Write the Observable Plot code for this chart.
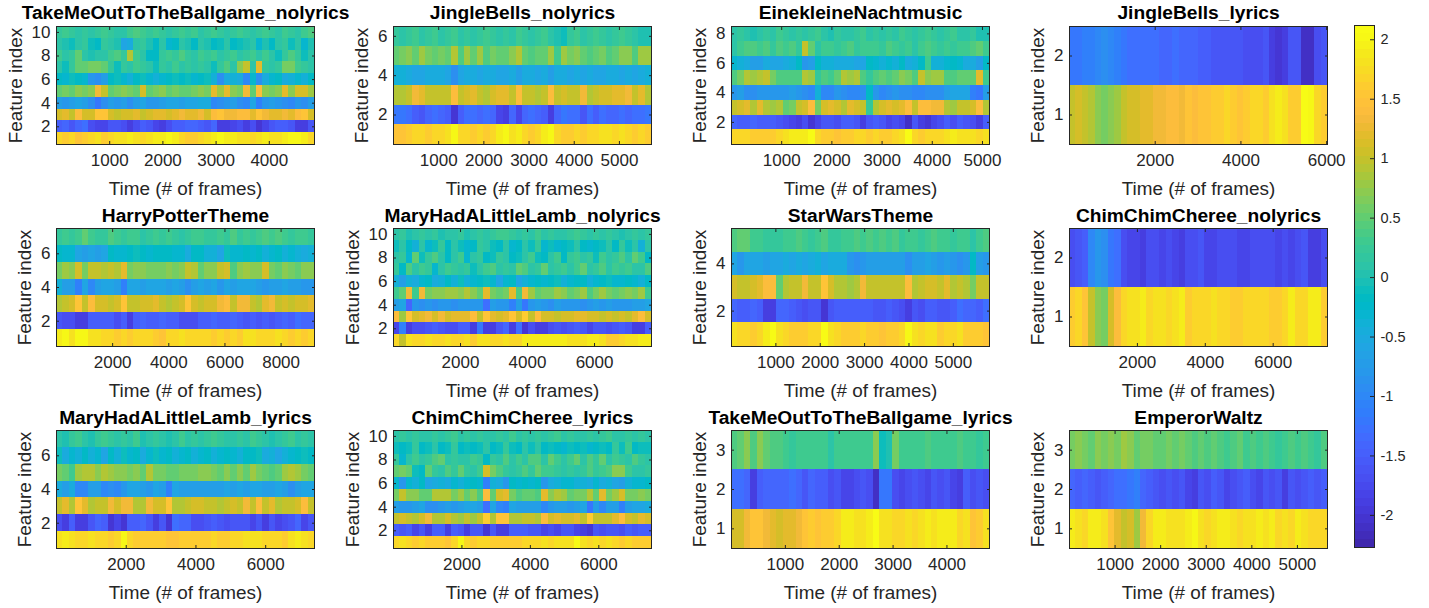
<!DOCTYPE html>
<html><head><meta charset="utf-8">
<script src="https://cdn.jsdelivr.net/npm/d3@7"></script>
<script src="https://cdn.jsdelivr.net/npm/@observablehq/plot@0.6"></script>
<style>html,body{margin:0;padding:0;background:#fff}#c{position:relative;width:1429px;height:608px;overflow:hidden}#c svg{position:absolute;overflow:visible;background:transparent}</style>
</head><body><div id="c"></div>
<script>
// Values are estimated by eye from the picture; each inner array is one feature (1 upward), read left to right.
const takeMeNoLyrics = [
[1.7,1.6,1.7,1.5,1.6,1.7,1.8,1.6,1.7,1.8,1.8,1.9,1.8,1.7,1.8,1.9,1.9,2,1.9,1.7,1.6,1.6,1.7,1.8,1.9,2,1.9,1.9,1.8,1.8,1.7,1.8,1.9,1.8,1.8,1.9,2,2,1.9,1.7],
[-1.5,-1.4,-1.6,-1.4,-1.3,-1.7,-1.8,-1.8,-1.6,-1.6,-1.7,-1.9,-1.7,-1.5,-1.6,-1.8,-1.9,-1.7,-1.5,-1.5,-1.4,-1.4,-1.5,-1.6,-1.4,-1.9,-1.9,-1.8,-1.7,-1.9,-1.7,-2,-1.8,-1.6,-1.5,-1.5,-1.6,-1.9,-1.9,-1.6],
[1.1,1.2,1,1.4,1.1,1.1,1.5,1.5,1.1,1,1.1,1.1,1.2,1,1.1,1.2,1.2,1.1,1.2,1.3,1.2,1.2,1.3,1.1,1.4,1.5,1.3,1.3,1.4,1.4,1.2,1.5,1.3,1.2,1.2,1.3,1.2,1.4,1.5,1.1],
[-.7,-.8,-.7,-.6,-.7,-.9,-1.2,-.9,-.7,-.8,-.7,-.9,-.7,-.6,-.8,-.8,-.7,-.6,-.6,-.7,-.6,-.6,-.5,-.5,-1,-.9,-.8,-.7,-.9,-1,-.6,-1.1,-.8,-.7,-.8,-.9,-1,-.8,-.9,-.7],
[.5,.6,.5,.7,.6,.7,1.3,1,.5,.6,.7,.6,.5,1.1,.5,.6,.7,.5,.6,.5,.5,.6,.7,.6,1.2,.8,1.2,.7,.6,1.3,.5,1.4,.7,.6,.7,1.2,.7,1.1,1.1,.8],
[-.2,-.3,-.1,-.2,-.3,-.8,-.9,-.7,-.2,-.1,-.3,-.4,-.2,-.1,-.3,-.4,-.3,-.2,-.1,-.2,-.1,-.3,-.2,-.1,-.4,-.9,-.5,-.4,-.5,-1,-.3,-.9,-.5,-.3,-.2,-.5,-.4,-.3,-.4,-.2],
[.1,-.1,.2,.5,.5,.6,.6,.5,.2,-.1,.2,.1,.3,.2,.1,-.1,.2,.1,.3,.1,.2,.1,.2,.1,-.1,.2,.4,.1,.7,1,.1,1.2,.2,.1,.2,.6,.6,.3,.2,.1],
[.3,.1,.2,.5,.1,0,.1,.1,.3,.4,.2,.9,.3,.1,-.2,-.2,.2,.3,.2,.4,.2,.1,.3,.2,.3,.1,.2,.3,.1,.2,.3,.1,.3,.1,-.1,.2,.4,.2,-.1,.1],
[.1,0,-.1,.1,.2,-.1,-.2,.2,.1,0,-.6,-.5,.1,.2,0,-.2,.1,-.3,-.2,.1,0,-.2,.1,0,-.2,-.1,.1,-.2,-.1,0,.1,-.3,0,-.2,.1,.2,-.1,.1,-.3,0],
[.2,.3,.2,.1,.2,.1,.2,.3,.2,.1,.1,.3,.4,.3,.2,.3,.2,.1,.2,.3,.2,.3,.1,.2,.3,.2,.1,.2,.3,.2,.1,.2,.3,.2,.1,.3,.2,.1,.3,.4]];
const jingleNoLyrics = [
[1.5,1.5,1.6,1.7,1.7,1.6,1.7,1.7,1.8,2,1.7,1.7,1.6,1.7,1.6,1.7,1.9,2,1.8,1.9,1.7,1.6,1.7,1.9,2,1.7,1.6,1.6,1.7,1.6,1.7,1.7,1.8,1.8,1.7,1.8,1.7,1.6,1.7,1.6],
[-1.2,-1.2,-1.3,-1.5,-1.6,-1.4,-1.3,-1.4,-1.5,-2,-1.5,-1.3,-1.3,-1.4,-1.3,-1.4,-1.8,-1.9,-1.4,-1.8,-1.4,-1.3,-1.4,-1.5,-1.9,-1.4,-1.2,-1.3,-1.3,-1.6,-1.3,-1.5,-1.3,-1.4,-1.4,-1.3,-1.4,-1.3,-1.3,-1.2],
[.9,.9,1,1.3,1.2,1,1,1,1,1.4,1,1.1,1.2,1,.9,1.1,1.2,1.2,1,1.4,1,1,.9,1,1.4,1,1.1,1,1,1.3,.9,1,1.1,1.1,1.2,1.2,1.3,1,1.2,.9],
[-.4,-.4,-.5,-.6,-.6,-.5,-.5,-.5,-.6,-.9,-.6,-.5,-.5,-.6,-.5,-.5,-.6,-.6,-.5,-.7,-.5,-.5,-.6,-.5,-.7,-.5,-.5,-.6,-.5,-.6,-.5,-.6,-.6,-.5,-.5,-.6,-.5,-.6,-.5,-.4],
[.5,.6,.7,.5,.8,.6,.5,.6,.5,.9,.4,.8,.5,.8,.4,.6,.5,.5,.7,.9,.5,.4,.5,.5,.8,.3,.8,.6,.7,.5,.4,.5,.6,.4,.5,.7,.7,.4,.8,.8],
[.2,.1,.2,.3,.1,.2,.3,.1,.2,.3,.1,.2,.1,.2,.3,.2,.1,.2,.1,.3,.2,.1,.2,.3,.1,0,-.1,.2,.3,.1,.2,.3,.2,.1,.2,.3,.2,.1,0,0]];
const kleineNacht = [
[1.7,1.7,1.7,1.6,1.6,1.6,1.6,1.7,1.8,1.9,1.9,1.9,2.05,1.7,1.6,1.6,1.5,1.6,1.6,1.7,1.7,1.6,1.7,1.6,1.6,1.7,1.8,2.1,1.7,1.6,1.7,1.7,1.7,1.8,1.9,1.8,1.8,1.8,1.7,1.8],
[-1.4,-1.5,-1.5,-1.4,-1.5,-1.5,-1.5,-1.6,-1.7,-1.8,-1.9,-1.7,-2,-1.8,-1.6,-1.6,-1.7,-1.5,-1.5,-1.6,-1.9,-1.6,-1.5,-1.6,-1.8,-1.7,-1.8,-2.1,-1.6,-1.9,-2,-1.8,-1.7,-1.5,-1.7,-1.5,-1.6,-1.7,-1.9,-1.5],
[1,1.1,1.2,.9,1.2,.9,.8,.9,.5,.6,1,1.1,1.4,.6,1.1,1.2,1.1,.9,1.2,1.1,1,.2,.9,1.1,1.2,1.1,1.2,1.4,1,1.4,1.4,1.3,1.3,.9,.8,1,1,1.1,1.4,.9],
[-.8,-.7,-.9,-.9,-.8,-.8,-.8,-.8,-.8,-.7,-.8,-.9,-1,-.4,-1,-1,-.8,-.9,-1,-1,-.9,-.2,-.8,-1,-.9,-.8,-.9,-.9,-1,-1,-.9,-.9,-.9,-.7,-.6,-.6,-.6,-1.1,-1.2,-.7],
[.4,.6,.9,.8,.9,1,.6,.4,.4,.4,.4,.9,.8,.2,.4,.3,.5,.9,.8,.9,.4,.2,.4,.5,.4,.5,.7,.6,.4,1,.7,.8,.8,.4,.4,.5,.5,.5,1.2,.3],
[-.3,-.4,-.5,-.7,-.7,-.5,-.6,-.6,-.5,-.4,-.2,-.8,-.7,-.2,-.4,-.4,-.5,-.5,-.5,-.6,-.6,-.2,-.3,-.4,-.3,-.4,-.2,-.5,-.4,-.2,.3,-.4,-.4,-.3,-.2,-.3,-.5,-.5,-.7,-.2],
[.1,.3,.4,.4,.3,.4,.2,.4,.3,.4,.2,1,.5,.1,.3,.3,.2,.3,.4,.2,.3,.3,.3,.2,.4,.3,.2,.3,.1,.3,.4,.3,.2,.3,.2,.3,.3,.4,.5,.3],
[.1,.2,.1,0,.1,.2,.1,.3,.2,.1,.2,.1,.2,.3,.1,0,.2,.1,.1,.2,.3,.1,.2,.1,.2,.1,.3,.2,.1,.2,.3,.2,.1,.2,.3,.1,.1,.2,0,0]];
const jingleLyrics = [
[1,1.1,1,.9,.7,.6,.7,.8,1,1.1,1.1,1.2,1.2,1.3,1.3,1.4,1.4,1.3,1.5,1.4,1.5,1.5,1.6,1.6,1.7,1.6,1.5,1.6,1.7,1.7,1.6,1.8,1.9,1.8,1.6,1.6,2.05,2,1.7,1.6],
[-1.2,-1.2,-1.1,-1.1,-1,-.9,-1,-1.1,-1.2,-1.3,-1.3,-1.3,-1.3,-1.3,-1.4,-1.4,-1.3,-1.4,-1.4,-1.4,-1.5,-1.5,-1.6,-1.6,-1.6,-1.6,-1.6,-1.7,-1.7,-1.7,-1.6,-1.9,-2,-1.9,-1.6,-1.6,-2.1,-2.1,-1.7,-1.6]];
const harryPotter = [
[1.9,2,1.8,2,2,1.8,1.8,1.7,1.7,1.6,1.7,1.6,1.7,1.7,1.7,1.6,1.5,1.7,1.7,1.8,1.7,1.7,1.7,1.7,1.6,1.7,1.6,1.7,1.6,1.8,1.8,1.7,1.7,1.7,1.8,1.7,1.6,1.7,1.6,1.7],
[-1.6,-1.7,-1.7,-1.9,-1.9,-1.5,-1.5,-1.5,-1.5,-1.7,-1.5,-1.9,-1.5,-1.4,-1.5,-1.5,-1.4,-1.5,-1.5,-1.7,-1.7,-1.7,-1.5,-1.5,-1.4,-1.5,-1.5,-1.4,-1.5,-1.6,-1.5,-1.6,-1.5,-1.6,-1.5,-1.4,-1.5,-1.3,-1.4,-1.4],
[.9,1,1.1,1.5,1,1.4,1.1,1.1,1,1.1,1.5,1,1,1.1,1.1,1.2,1,.9,1,1.1,1.5,1.1,1,1.1,1.1,1.3,1.4,1,1.3,1.3,1,.9,1.2,1.3,1,1.1,1,1.1,1.1,1.2],
[-.4,-.7,-.7,-1.1,-.6,-1,-.7,-.6,-.6,-.7,-1.1,-.6,-.6,-.7,-.6,-.6,-.6,-.7,-.6,-.7,-.9,-.7,-.6,-.7,-.6,-.8,-.6,-.7,-.6,-.6,-.6,-.7,-.8,-.7,-.7,-.6,-.7,-.7,-.8,-.8],
[.6,.8,.7,1.1,.6,1,1,.9,1,.9,1.2,.6,.7,.7,.6,.6,.6,.7,.6,.7,1,.9,.5,.7,.7,1,1.1,.4,.7,.8,.7,.7,1.1,.6,.5,.7,.6,.5,.7,.7],
[-.2,-.3,-.3,-.6,-.7,-.6,-.7,-.6,-.2,-.3,-.3,-.2,-.1,-.2,-.3,-.2,-.2,-.2,-.3,-.3,-.5,-.2,-.2,-.4,-.4,-.6,-.1,-.3,-.3,-.2,-.3,-.2,-.4,-.3,-.2,-.4,-.3,-.4,-.5,-.4],
[.2,.3,.2,.3,.5,.3,.2,.2,.4,.3,.2,.3,.3,.1,.2,.3,.2,.3,.2,.1,.2,.3,.3,.2,.2,.3,.2,.4,.2,.3,.2,.3,.4,.3,.4,.3,.2,.3,.3,.2]];
const maryNoLyrics = [
[1.7,1,1.8,1.7,1.7,1.8,1.7,1.7,1.8,1.7,1.7,1.8,1.6,1.8,1.8,1.7,1.7,1.8,1.7,1.7,1.9,1.9,1.9,1.9,1.9,1.9,1.9,1.8,1.8,1.8,1.9,1.9,1.8,1.6,1.6,1.7,1.8,1.8,1.9,1.9],
[-1.8,-1.1,-1.9,-1.7,-1.7,-1.6,-1.5,-1.6,-1.7,-1.7,-1.5,-1.5,-1.9,-1.2,-1.9,-1.9,-1.6,-1.4,-1.9,-1.3,-2,-1.7,-1.9,-1.9,-1.7,-1.6,-1.7,-1.6,-1.5,-1.6,-1.8,-1.6,-1.6,-1.7,-1.6,-1.5,-1.6,-1.9,-1.9,-1.5],
[1.4,.8,1.5,1.1,1.2,1.3,1.1,1.3,1.1,1.2,1.2,1.2,1.4,1,1.5,1.2,1.1,1.2,1.5,1.1,1.6,1,1.4,1.1,1.1,1,1.1,1.1,1.2,1.2,1.1,1.1,1,1.1,1,1.1,1,1.2,1.4,1.1],
[-.7,-.6,-1.4,-.8,-.9,-.8,-.9,-.8,-.8,-.9,-.8,-.8,-.8,-.8,-1.3,-.7,-.8,-.8,-1.1,-.7,-1.2,-.8,-.7,-.8,-.9,-.7,-.8,-.8,-.8,-.9,-.8,-.7,-.8,-.7,-.8,-.8,-.8,-.7,-.7,-.6],
[.3,.5,1.3,.3,1.3,.6,.7,.7,.8,.8,.7,.9,.7,.5,1.2,.6,.5,.6,1.2,.4,1.3,.8,.5,.6,.6,.8,.7,.5,.6,.8,.4,.6,.8,.6,.5,.6,.7,.6,.8,.3],
[-.4,-.7,-.4,-.5,-.3,-.2,-.5,-.4,-.2,-.4,-.1,-.4,-.3,-.2,-.1,-.3,-.6,-.3,-.2,-.6,-.4,-.3,-.2,-.3,-.2,-.1,-.4,-.3,-.2,-.2,-.4,-.3,-.2,-.1,-.3,-.3,-.2,-.3,-.4,-.2],
[.2,-.2,.4,.1,.3,.2,-.3,.1,.3,.2,.1,.2,-.1,.1,.3,.4,.1,.2,.1,.5,.4,.1,.2,.5,.1,.2,.3,.1,.3,.5,.1,.2,.4,.1,.3,.2,.3,.1,.1,.4],
[.1,.2,-.3,.5,-.1,.2,.4,.1,-.2,.1,.3,-.3,.1,.2,-.2,-.1,.2,.1,-.2,-.1,.1,.3,-.1,-.2,.1,.3,-.2,.2,.3,.1,.2,-.1,.3,.1,.2,.4,.1,.5,.3,-.2],
[-.1,.1,-.2,-.4,.1,-.3,-.1,.2,-.2,.1,-.1,-.3,-.2,.2,.1,-.1,-.2,.1,-.3,-.2,.1,-.1,.2,-.3,-.1,-.3,-.2,-.1,.1,-.2,-.3,-.2,-.1,.1,-.2,.2,-.1,.1,-.4,.1],
[.1,.2,0,.1,.2,.1,.2,0,.1,.1,.2,0,.1,.2,.1,.2,.3,.3,.2,.1,.2,.1,.3,.1,.2,.1,.1,.2,.3,.2,.1,.2,.1,.2,.1,0,.1,.2,.1,.2]];
const starWars = [
[1.8,1.7,1.7,1.6,1.7,1.9,2.05,1.8,1.7,1.6,1.6,1.6,1.7,1.7,2.1,1.8,1.7,1.6,1.6,1.6,1.7,1.6,1.6,1.5,1.6,1.6,1.7,2,1.8,1.7,1.8,1.8,1.6,1.7,1.7,1.8,1.6,1.6,1.6,1.5],
[-1.4,-1.5,-1.5,-1.4,-1.5,-1.9,-1.9,-1.4,-1.4,-1.5,-1.6,-1.7,-1.6,-1.6,-2,-1.6,-1.5,-1.5,-1.5,-1.5,-1.5,-1.5,-1.6,-1.6,-1.5,-1.6,-1.7,-1.9,-1.6,-1.7,-1.5,-1.5,-1.6,-1.6,-1.5,-1.3,-1.4,-1.4,-1.5,-1.3],
[1.1,1,1,1.1,1.2,1.4,1.4,.5,.9,1,1,1.3,1,1,1.5,1.1,.9,.9,.8,.9,1.3,1,1,1,1,1,1,1.4,.9,1,1.1,1.1,1,1.2,.9,1,.9,.6,1,1],
[-.6,-.8,-.6,-.6,-.6,-.7,-.6,-.6,-.5,-.6,-.5,-.6,-.5,-.4,-.6,-.5,-.5,-.5,-.8,-.9,-.8,-.7,-.7,-.7,-.7,-.7,-.7,-.9,-.7,-.7,-.6,-.7,-.8,-.7,-.8,-.9,-.8,-.2,-.7,-.8],
[.4,.5,.5,.3,.3,.2,.2,.2,.3,.3,.4,.3,.2,.3,.4,.2,.2,.3,.3,.4,.3,.4,.3,.4,.3,.4,.2,.3,.3,.2,.3,.4,.3,.3,.2,.3,.3,.1,.3,.4]];
const chimNoLyrics = [
[1.6,1.7,1.5,1,.7,.6,1.1,1.4,1.7,1.8,1.8,1.9,1.7,1.8,1.8,1.7,1.8,1.9,1.6,1.7,1.7,1.7,1.8,1.7,1.7,1.6,1.6,1.7,1.7,1.7,1.7,1.6,1.6,1.7,1.9,1.7,1.7,1.9,1.9,1.6],
[-1.7,-1.6,-1.5,-1,-.8,-.9,-1.2,-1.3,-1.7,-1.8,-1.8,-1.9,-1.7,-1.7,-1.8,-1.7,-1.8,-1.9,-1.7,-1.7,-1.6,-1.8,-1.8,-1.7,-1.7,-1.7,-1.8,-1.8,-1.7,-1.7,-1.7,-1.7,-1.8,-1.7,-1.8,-1.7,-1.6,-1.9,-1.9,-1.7]];
const maryLyrics = [
[1.8,1.9,1.8,1.7,1.7,1.8,1.7,1.7,1.6,1.7,2,1.7,1.6,1.6,1.6,1.6,1.6,1.5,1.5,1.6,1.6,1.6,1.6,1.6,1.7,1.6,1.6,1.7,1.7,1.8,1.8,1.8,1.7,1.7,1.7,1.6,1.8,1.9,1.8,1.7],
[-1.7,-1.9,-1.5,-1.9,-1.9,-1.6,-1.4,-1.5,-2,-1.8,-2,-1.5,-1.5,-1.4,-1.6,-1.9,-1.6,-2,-1.3,-1.4,-1.4,-1.7,-1.7,-1.6,-1.5,-1.6,-1.7,-1.6,-1.6,-1.6,-1.8,-1.6,-1.9,-1.6,-1.8,-1.7,-1.6,-1.4,-1.8,-1.6],
[1,1.2,.9,1.5,1.2,.9,1,1,1.3,1.1,1.3,1.3,.9,.9,1.3,1.1,1.1,1.5,.9,.9,1,1.1,1.1,1,1,.9,1,1.1,1,1.3,1,1.4,1,1.2,.9,1,1,1.1,1.4,1],
[-.5,-.7,-.5,-1,-1,-.7,-.7,-1,-.9,-1,-.8,-.6,-.6,-.7,-.8,-.6,-.7,-1.1,-.6,-.7,-.7,-.7,-.7,-.7,-.7,-.7,-.6,-.7,-.6,-.7,-.6,-.6,-.7,-.7,-.6,-.7,-.9,-.7,-.6,-.6],
[.6,.5,.3,.8,.9,.9,.7,.9,.8,.7,.7,.6,.7,.5,.9,.6,.6,.5,.5,.6,.6,.6,.7,.7,.6,.5,.7,.5,.7,.5,.8,.6,.5,.4,.5,.8,.9,.8,.6,.5],
[-.1,-.5,-.3,-.4,-.2,-.4,-.3,-.6,-.2,-.4,-.1,-.3,-.2,-.5,-.3,-.1,-.3,-.2,-.4,-.3,-.2,-.4,-.3,-.2,-.4,-.3,-.2,-.3,-.4,-.2,-.2,-.1,-.5,-.4,-.6,-.4,-.3,-.2,-.1,-.2],
[.1,0,.2,.3,.1,0,.2,.3,.2,.1,.2,.1,.3,0,.1,.2,.1,0,.1,.3,.1,.2,.1,.2,.3,.2,.1,.1,.2,.1,.3,.2,.1,0,.1,.2,.3,.1,.2,.1]];
const chimLyrics = [
[1.7,1.8,1.7,1.6,1.7,1.6,1.6,1.6,1.5,1.7,2,1.7,1.6,1.7,1.7,1.6,1.6,1.6,1.6,1.6,1.7,1.7,1.7,1.8,1.7,1.8,1.8,1.8,2.05,1.8,1.7,1.8,1.7,1.8,1.7,1.6,1.7,1.6,1.6,1.6],
[-1.5,-1.6,-1.5,-1.8,-1.6,-1.9,-1.5,-1.5,-1.9,-1.5,-1.6,-1.9,-1.6,-1.6,-2,-1.6,-1.9,-1.9,-1.5,-1.5,-1.5,-1.6,-1.6,-1.8,-1.7,-1.8,-1.6,-1.6,-1.8,-1.9,-2,-1.6,-1.7,-1.6,-1.6,-1.7,-1.5,-1.6,-1.5,-1.5],
[1,1.1,1,.9,1.1,1.3,.9,.9,1.1,.9,.8,1,.8,1,1.6,.9,1.5,1.5,.9,.9,1,1,.9,1.4,1.1,1.2,1.1,1.1,1.2,1,1.6,1,1,1,1.2,1.4,1.1,1,1.2,1.1],
[-.7,-.8,-.8,-.7,-.6,-.9,-.9,-.8,-.7,-.8,-.7,-.6,-.6,-.7,-1.3,-.6,-1,-1.1,-.6,-.7,-.7,-.7,-.7,-1,-.8,-.7,-.7,-.8,-.7,-.6,-1.2,-.7,-1,-.7,-.7,-1.1,-.7,-.6,-.6,-.5],
[.6,1,.7,.7,.5,.5,.9,.9,.9,.6,.8,.5,.7,.4,1.4,.5,1.1,1.2,.6,.4,.5,.5,.4,1.2,.7,.9,.8,.5,.6,.6,.9,.5,1.2,.6,.8,1.1,.6,.6,.7,.6],
[-.3,-.8,-.3,-.4,-.2,-.6,-.5,-.4,-.5,-.3,-.4,-.3,-.2,-.3,-1.1,-.4,-.5,-.8,-.2,-.3,-.2,-.3,-.2,-.8,-.5,-.4,-.3,-.3,-.4,-.4,-.5,-.3,-.5,-.4,-.6,-.7,-.4,-.3,-.3,-.2],
[.5,.6,.5,-.1,-.2,.5,.2,.1,.4,.2,.5,.2,.1,.3,1.1,.6,.4,.2,.1,.2,.4,.2,.5,.3,.3,.2,.1,.2,.1,.2,.4,.2,.3,.4,.7,.7,.3,.1,.1,.2],
[.2,-.3,.1,.3,.1,.2,.4,.5,.1,.2,.1,.1,.3,.2,-.2,.2,.1,.4,.1,.3,.1,.4,.4,.1,.5,.3,.1,.3,.5,.1,.4,.2,.5,.1,.3,.2,.1,.4,.2,.1],
[-.1,-.2,-.1,.2,-.2,-.1,.1,-.2,-.1,.2,-.2,-.1,-.2,-.1,.1,-.2,-.1,.2,-.1,-.2,.1,-.1,.1,-.2,-.1,-.2,-.3,-.1,-.2,-.1,-.3,-.2,-.1,-.2,.2,-.1,.3,-.2,-.1,-.1],
[.1,.2,.1,.2,.1,.1,.2,.1,.2,.3,.1,.2,.1,.2,.1,.1,.2,.1,.3,.1,.2,.1,.2,.1,.2,.3,.1,.2,.1,.1,.2,.1,.2,.3,.1,.1,.2,.1,.2,.1]];
const takeMeLyrics = [
[1.1,1.1,1.3,1.5,1.5,1.3,1.2,1.1,1.2,1.2,1.3,1.5,1.6,1.5,1.6,1.6,1.7,1.9,1.9,1.8,1.8,1.9,2.1,1.8,1.8,1.7,1.7,1.8,1.7,1.8,1.9,1.8,1.9,1.9,1.9,1.7,1.8,1.5,1.6,1.8],
[-1.3,-1.3,-1.4,-1.9,-1.5,-1.4,-1.4,-1.4,-1.4,-1.3,-1.4,-1.6,-1.4,-1.5,-1.5,-1.7,-1.6,-1.8,-1.8,-1.7,-1.6,-1.7,-2.1,-1.2,-1.2,-1.7,-1.8,-1.7,-1.6,-1.7,-1.8,-1.6,-1.7,-1.6,-1.8,-1.9,-1.5,-1.7,-1.6,-1.7],
[.4,.5,.7,.4,.7,.5,.4,.4,.3,.2,.3,.3,.3,.3,.3,.1,.3,.3,.3,.3,.3,.3,.7,-.1,0,.6,.3,.3,.3,.3,.4,.3,.3,.3,.3,.4,.3,.3,.2,.3]];
const emperorWaltz = [
[1.9,1.8,1.7,1.9,1.9,1.8,1.5,1.2,1,1.1,.8,1.3,1.7,1.9,1.9,1.8,1.8,1.8,1.9,2,1.8,1.7,1.8,1.9,1.9,1.8,1.7,1.8,1.8,1.9,1.8,1.9,1.7,1.8,1.7,1.9,1.8,1.7,1.7,1.7],
[-1.4,-1.5,-1.4,-1.5,-1.6,-1.5,-1.4,-1.3,-1.3,-1.2,-1.1,-1.4,-1.5,-1.6,-1.7,-1.6,-1.7,-1.6,-1.8,-1.9,-1.6,-1.7,-1.5,-1.6,-1.8,-1.7,-1.6,-1.5,-1.7,-1.8,-1.6,-1.7,-1.6,-1.9,-1.6,-1.7,-1.6,-1.5,-1.6,-1.5],
[.6,.7,.6,.5,.7,.6,.7,.6,.8,.7,.5,.6,.6,.5,.5,.6,.5,.6,.5,.4,.5,.4,.5,.4,.3,.4,.5,.3,.4,.3,.4,.3,.2,.3,.4,.3,.4,.3,.2,.4]];

const titles = ["TakeMeOutToTheBallgame_nolyrics","JingleBells_nolyrics","EinekleineNachtmusic","JingleBells_lyrics","HarryPotterTheme","MaryHadALittleLamb_nolyrics","StarWarsTheme","ChimChimCheree_nolyrics","MaryHadALittleLamb_lyrics","ChimChimCheree_lyrics","TakeMeOutToTheBallgame_lyrics","EmperorWaltz"];
const panelValues = [takeMeNoLyrics,jingleNoLyrics,kleineNacht,jingleLyrics,harryPotter,maryNoLyrics,starWars,chimNoLyrics,maryLyrics,chimLyrics,takeMeLyrics,emperorWaltz];
const frameCounts = [4850,5710,5140,6020,9190,7700,5815,7600,7400,7540,4790,5660];
const xTickValues = [[1000,2000,3000,4000],[1000,2000,3000,4000,5000],[1000,2000,3000,4000,5000],[2000,4000,6000],[2000,4000,6000,8000],[2000,4000,6000],[1000,2000,3000,4000,5000],[2000,4000,6000],[2000,4000,6000],[2000,4000,6000],[1000,2000,3000,4000],[1000,2000,3000,4000,5000]];
const yTickValues = [[2,4,6,8,10],[2,4,6],[2,4,6,8],[1,2],[2,4,6],[2,4,6,8,10],[2,4],[1,2],[2,4,6],[2,4,6,8,10],[1,2,3],[1,2,3]];
const colorbarTicks = [-2,-1.5,-1,-.5,0,.5,1,1.5,2];
const colorExtent = [-2.27,2.12];
const xLabel = "Time (# of frames)", yLabel = "Feature index";

const parula = [[.2422,.1504,.6603],[.2504,.165,.7076],[.2578,.1818,.7511],[.2647,.1978,.7952],[.2706,.2147,.8364],[.2751,.2342,.871],[.2783,.2559,.8991],[.2803,.2782,.9221],[.2813,.3006,.9414],[.281,.3228,.9579],[.2795,.3447,.9717],[.276,.3667,.9829],[.2699,.3892,.9906],[.2602,.4123,.9952],[.244,.4358,.9988],[.2206,.4603,.9973],[.1963,.4847,.9892],[.1834,.5074,.9798],[.1786,.5289,.9682],[.1764,.5499,.952],[.1687,.5703,.9359],[.154,.5902,.9218],[.146,.6091,.9079],[.138,.6276,.8973],[.1248,.6459,.8883],[.1113,.6635,.8763],[.0952,.6798,.8598],[.0689,.6948,.8394],[.0297,.7082,.8163],[.0036,.7203,.7917],[.0067,.7312,.766],[.0433,.7411,.7394],[.0964,.75,.712],[.1408,.7584,.6842],[.1717,.767,.6554],[.1938,.7758,.6251],[.2161,.7843,.5923],[.247,.7918,.5567],[.2906,.7973,.5188],[.3406,.8008,.4789],[.3909,.8029,.4354],[.4456,.8024,.3909],[.5044,.7993,.348],[.5616,.7942,.3045],[.6174,.7876,.2612],[.672,.7793,.2227],[.7242,.7698,.191],[.7738,.7598,.1646],[.8203,.7498,.1535],[.8634,.7406,.1596],[.9035,.733,.1774],[.9393,.7288,.21],[.9728,.7298,.2394],[.9956,.7434,.2371],[.997,.7659,.2199],[.9952,.7861,.199],[.9892,.8134,.1769],[.9786,.8422,.1526],[.9676,.872,.1314],[.961,.8996,.1149],[.9597,.929,.1015],[.9628,.9596,.0873],[.9691,.9844,.0805],[.9769,.9839,.0805]].map(c=>d3.rgb(c[0]*255,c[1]*255,c[2]*255).formatRgb());
const colorScale = {type:"linear",domain:colorExtent,clamp:true,interpolate:d3.piecewise(d3.interpolateRgb,parula)};

const font = "'Liberation Sans',Arial,sans-serif", ink = "#262626";
const lefts = [56,393,731,1069], tops = [26,228,430], W = 258, H = 118;
const ML = 56, MR = 42, MT = 26, MB = 60;
const root = document.getElementById("c");

panelValues.forEach((rows,p)=>{
  const n = rows.length, total = frameCounts[p], cells = [];
  rows.forEach((vals,r)=>vals.forEach((v,i)=>cells.push({
    x1:total*i/vals.length, x2:total*(i+1)/vals.length, y1:r+.5, y2:r+1.5, v})));
  const fig = Plot.plot({
    width:W+ML+MR, height:H+MT+MB, marginLeft:ML, marginRight:MR, marginTop:MT, marginBottom:MB,
    style:{fontFamily:font,background:"transparent",color:ink},
    x:{domain:[0,total]}, y:{domain:[.5,n+.5]}, color:colorScale,
    marks:[
      Plot.rect(cells,{x1:"x1",x2:"x2",y1:"y1",y2:"y2",fill:"v",shapeRendering:"crispEdges"}),
      Plot.axisX({ticks:xTickValues[p],tickSize:-3,tickPadding:12,fontSize:17,label:null,tickFormat:String,stroke:ink,fill:ink}),
      Plot.axisX({anchor:"top",ticks:xTickValues[p],tickSize:-3,tickFormat:()=>"",label:null,stroke:ink}),
      Plot.axisY({ticks:yTickValues[p],tickSize:-3,tickPadding:9,fontSize:17,label:null,tickFormat:String,stroke:ink,fill:ink}),
      Plot.axisY({anchor:"right",ticks:yTickValues[p],tickSize:-3,tickFormat:()=>"",label:null,stroke:ink}),
      Plot.frame({stroke:ink,strokeWidth:1}),
      Plot.text([titles[p]],{frameAnchor:"top",lineAnchor:"middle",dy:p<4?-14:-12.5,fontSize:19.2,fontWeight:"bold",fill:"#000"}),
      Plot.text([xLabel],{frameAnchor:"bottom",lineAnchor:"middle",dy:44,fontSize:18.9,fill:ink}),
      Plot.text([yLabel],{frameAnchor:"left",textAnchor:"middle",dx:n>=10?-41:-32,rotate:-90,fontSize:18.9,fill:ink})
    ]});
  fig.style.left=(lefts[p%4]-ML)+"px"; fig.style.top=(tops[Math.floor(p/4)]-MT)+"px";
  root.appendChild(fig);
});

const levels = d3.range(64).map(i=>({
  y1:colorExtent[0]+(colorExtent[1]-colorExtent[0])*i/64,
  y2:colorExtent[0]+(colorExtent[1]-colorExtent[0])*(i+1)/64,
  v:colorExtent[0]+(colorExtent[1]-colorExtent[0])*(i+.5)/64}));
const bar = Plot.plot({
  width:75, height:583, marginLeft:0, marginRight:55, marginTop:25, marginBottom:36,
  style:{fontFamily:font,background:"transparent",color:ink},
  x:{domain:[0,1],axis:null}, y:{domain:colorExtent}, color:colorScale,
  marks:[
    Plot.rect(levels,{x1:0,x2:1,y1:"y1",y2:"y2",fill:"v",shapeRendering:"crispEdges"}),
    Plot.axisY({anchor:"right",ticks:colorbarTicks,tickSize:-5,tickPadding:11,fontSize:14.5,label:null,tickFormat:String,stroke:ink,fill:ink}),
    Plot.frame({stroke:ink})
  ]});
bar.style.left="1354px"; bar.style.top="0px";
root.appendChild(bar);
</script></body></html>
